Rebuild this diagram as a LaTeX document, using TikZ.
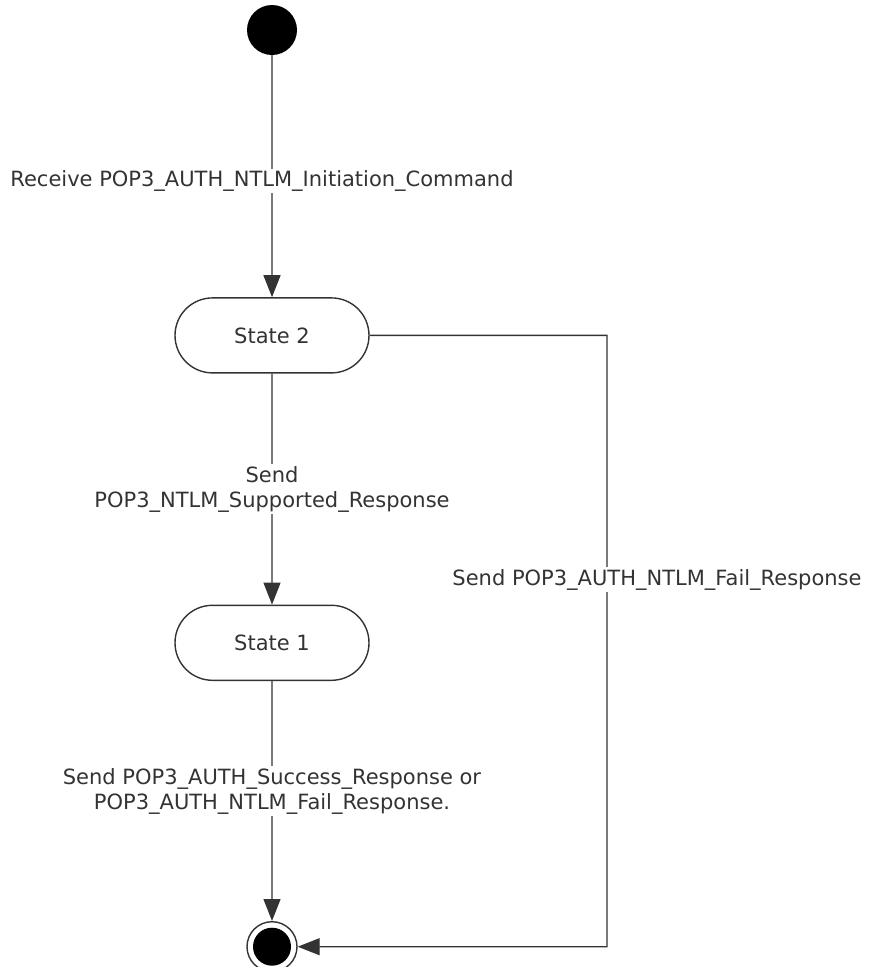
\documentclass[tikz,border=0pt]{standalone}
\usepackage{fontspec}
\setmainfont{DejaVu Sans}
\usetikzlibrary{arrows.meta, positioning, shapes.misc}

\begin{document}
\begin{tikzpicture}[x=1pt, y=-1pt,
    state/.style={draw=black!80, line width=1.4pt, rounded rectangle, minimum width=194pt, minimum height=75pt, inner sep=0pt, text=black!80, font=\fontsize{21}{25}\selectfont},
    initial/.style={circle, fill=black, minimum size=50pt, inner sep=0pt},
    final/.style={circle, draw=black!80, line width=1.4pt, minimum size=50pt, inner sep=0pt,
        path picture={\fill[black] (path picture bounding box.center) circle (19pt);}},
    arrow/.style={-{Triangle[length=22pt, width=17pt]}, line width=1.4pt, draw=black!80},
    trans/.style={fill=white, text=black!80, align=center, inner sep=2pt, font=\fontsize{21}{25}\selectfont}
]
\useasboundingbox (0,0) rectangle (874,967);

% States
\node[initial] (start) at (272,30) {};
\node[state, below=242pt of start] (s2) {State 2};
\node[state, below=231pt of s2] (s1) {State 1};
\node[final, below=240pt of s1] (end) {};

% corner of the fail branch
\coordinate (bend) at ([xshift=335pt]s2.center);

% Transitions
\draw[arrow] (start) -- node[trans, pos=0.52, xshift=-10pt] {Receive POP3\_AUTH\_NTLM\_Initiation\_Command} (s2);
\draw[arrow] (s2) -- node[trans] {Send\\POP3\_NTLM\_Supported\_Response} (s1);
\draw[arrow] (s1) -- node[trans, pos=0.46] {Send POP3\_AUTH\_Success\_Response or\\POP3\_AUTH\_NTLM\_Fail\_Response.} (end);
\draw[arrow] (s2) -- (bend) |- node[trans, pos=0.2, xshift=50pt] {Send POP3\_AUTH\_NTLM\_Fail\_Response} (end);

\end{tikzpicture}
\end{document}
